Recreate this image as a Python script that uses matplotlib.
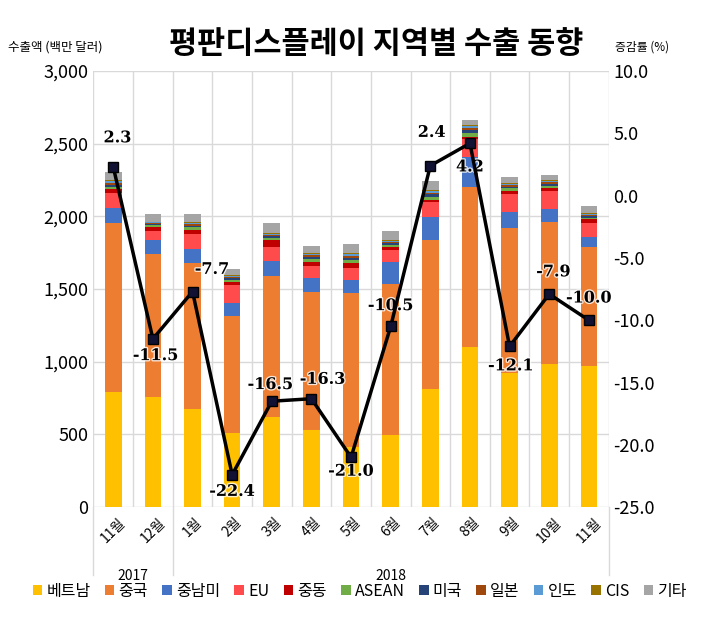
import numpy as np
import matplotlib
matplotlib.use("Agg")
import matplotlib.pyplot as plt
import matplotlib.patheffects as pe
from matplotlib.transforms import blended_transform_factory

plt.rcParams['font.family'] = ['Noto Sans CJK KR', 'DejaVu Sans']
plt.rcParams['axes.unicode_minus'] = False

months = ['11월', '12월', '1월', '2월', '3월', '4월', '5월', '6월', '7월', '8월', '9월', '10월', '11월']
years = ['2017', '2018']

# 수출액 (백만 달러)
vietnam = [791, 757, 674, 507, 619, 530, 415, 495, 812, 1101, 920, 984, 970]
china = [1163, 984, 1003, 807, 971, 947, 1055, 1037, 1025, 1103, 998, 975, 821]
latam = [106, 96, 98, 89, 103, 96, 92, 151, 160, 206, 114, 92, 65]
eu = [100, 64, 103, 124, 98, 85, 85, 85, 100, 120, 120, 126, 100]
mideast = [25, 28, 28, 23, 46, 30, 34, 23, 16, 18, 25, 16, 23]
asean = [20, 12, 18, 15, 16, 18, 20, 15, 22, 25, 16, 18, 13]
usa = [14, 8, 13, 10, 11, 14, 15, 11, 16, 19, 12, 13, 9]
japan = [12, 6, 11, 9, 9, 11, 13, 9, 13, 15, 10, 11, 8]
india = [10, 5, 9, 7, 7, 9, 10, 7, 11, 13, 8, 9, 7]
cis = [6, 3, 6, 5, 5, 6, 7, 4, 7, 8, 5, 6, 4]
others = [55, 53, 53, 41, 71, 50, 62, 62, 63, 34, 45, 34, 50]

# 증감률 (%)
growth = [2.3, -11.5, -7.7, -22.4, -16.5, -16.3, -21.0, -10.5, 2.4, 4.2, -12.1, -7.9, -10.0]

series = [
    ('베트남', vietnam, '#FFC000'),
    ('중국', china, '#ED7D31'),
    ('중남미', latam, '#4472C4'),
    ('EU', eu, '#FF4B4B'),
    ('중동', mideast, '#C00000'),
    ('ASEAN', asean, '#70AD47'),
    ('미국', usa, '#264478'),
    ('일본', japan, '#9E480E'),
    ('인도', india, '#5B9BD5'),
    ('CIS', cis, '#997300'),
    ('기타', others, '#A5A5A5'),
]

# label offsets in points (dx, dy)
offsets = [(3, 21), (2, -12), (14, 16), (0, -12), (-1, 12), (8, 14), (0, -10),
           (0, 15), (1, 24), (0, -17), (1, -14), (3, 16), (0, 16)]

fig = plt.figure(figsize=(7.08, 6.23), dpi=100)
ax = fig.add_axes([0.132, 0.186, 0.7277, 0.700])
x = np.arange(len(months))

bottom = np.zeros(len(months))
for name, vals, col in series:
    ax.bar(x, vals, 0.42, bottom=bottom, color=col, label=name, zorder=2)
    bottom += np.array(vals)

ax.set_ylim(0, 3000)
ax.set_yticks(np.arange(0, 3001, 500))
ax.set_yticklabels(['{:,}'.format(v) for v in range(0, 3001, 500)], fontsize=13)
ax.set_xlim(-0.5, len(months) - 0.5)
ax.set_xticks(x)
ax.set_xticklabels(months, rotation=45, fontsize=10)
ax.set_xticks(np.arange(-0.5, len(months), 1), minor=True)
ax.tick_params(which='both', length=0)
ax.tick_params(axis='x', pad=6)
ax.grid(axis='y', color='#d9d9d9', lw=1, zorder=0)
ax.grid(axis='x', which='minor', color='#d9d9d9', lw=1, zorder=0)
ax.grid(axis='x', which='major', visible=False)
for s in ax.spines.values():
    s.set_visible(False)

ax2 = ax.twinx()
ax2.plot(x, growth, color='black', lw=2.5, marker='s', ms=6.5, mfc='#111133', mec='black', zorder=5)
ax2.set_ylim(-25, 10)
ax2.set_yticks(np.arange(-25, 10.1, 5))
ax2.set_yticklabels(['{:.1f}'.format(v) for v in np.arange(-25, 10.1, 5)], fontsize=13)
ax2.tick_params(length=0)
for s in ax2.spines.values():
    s.set_visible(False)

for i, (v, off) in enumerate(zip(growth, offsets)):
    ax2.annotate('{:.1f}'.format(v), (i, v), xytext=off, textcoords='offset points',
                 ha='center', va='center', fontsize=11.5, fontweight='bold',
                 family='DejaVu Serif', color='black',
                 path_effects=[pe.withStroke(linewidth=2, foreground='white', alpha=0.8)])

# year groups under the month labels
tr = blended_transform_factory(ax.transData, ax.transAxes)
for xs in [-0.5, 1.5, len(months) - 0.5]:
    ax.plot([xs, xs], [0, -0.155], color='#d9d9d9', lw=1, transform=tr, clip_on=False)
ax.text(0.5, -0.158, years[0], transform=tr, ha='center', va='center', fontsize=10)
ax.text(7.0, -0.158, years[1], transform=tr, ha='center', va='center', fontsize=10)

fig.text(0.532, 0.929, '평판디스플레이 지역별 수출 동향', ha='center', va='center',
         fontsize=22, fontweight='bold')
fig.text(0.012, 0.924, '수출액 (백만 달러)', ha='left', va='center', fontsize=9)
fig.text(0.869, 0.924, '증감률 (%)', ha='left', va='center', fontsize=8.5)

fig.legend(loc='center', bbox_to_anchor=(0.508, 0.051), ncol=11, frameon=False,
           fontsize=11.5, handlelength=0.6, handleheight=0.6, handletextpad=0.25,
           columnspacing=0.9, borderaxespad=0)

fig.savefig('out.png', dpi=100)
